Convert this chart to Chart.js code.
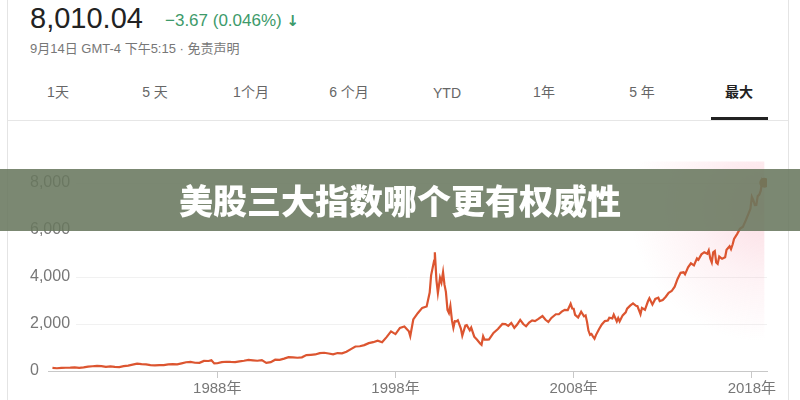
<!DOCTYPE html>
<html>
<head>
<meta charset="utf-8">
<script src="https://cdn.jsdelivr.net/npm/chart.js@4/dist/chart.umd.min.js"></script>
<style>
  body { margin: 0; width: 800px; height: 400px; background: #fff; overflow: hidden; position: relative;
         font-family: "Liberation Sans", Arial, "Noto Sans CJK SC", sans-serif; }
  .card { position: absolute; left: 7px; top: 0; width: 782px; height: 400px;
          border-left: 1px solid #e4e4e4; border-right: 1px solid #e4e4e4; box-sizing: border-box; }
  #price { position: absolute; left: 30px; top: 2px; font-size: 29px; color: #222; }
  #change { position: absolute; left: 165px; top: 11px; font-size: 17px; color: #3d9a6a; }
  #change b { font-family: "DejaVu Sans", sans-serif; font-size: 15px; }
  #stamp { position: absolute; left: 30px; top: 38px; font-size: 13px; color: #777; }
  .tab { position: absolute; top: 82px; font-size: 14px; line-height: 20px; color: #666; transform: translateX(-50%); }
  .tab.on { color: #222; font-weight: bold; }
  #under { position: absolute; left: 711px; top: 117px; width: 57px; height: 3px; background: #222; }
  #sep { position: absolute; left: 8px; top: 120px; width: 780px; height: 1px; background: #e6e6e6; }
  #wrap { position: absolute; left: 0; top: 125px; width: 800px; height: 275px; }
  #banner { position: absolute; left: 0; top: 169px; width: 800px; height: 62px;
            background: rgba(105, 120, 95, 0.88); color: #fff; text-align: center;
            font: 900 34px/62px "Noto Sans CJK SC", sans-serif; }
</style>
</head>
<body>
<div class="card"></div>
<div id="price">8,010.04</div>
<div id="change">−3.67 (0.046%) <b>↓</b></div>
<div id="stamp">9月14日 GMT-4 下午5:15 · 免责声明</div>
<div class="tab" style="left:58px">1天</div>
<div class="tab" style="left:155px">5 天</div>
<div class="tab" style="left:251px">1个月</div>
<div class="tab" style="left:349px">6 个月</div>
<div class="tab" style="left:447px;top:82.5px">YTD</div>
<div class="tab" style="left:544px">1年</div>
<div class="tab" style="left:642px">5 年</div>
<div class="tab on" style="left:739px">最大</div>
<div id="under"></div>
<div id="sep"></div>
<div id="wrap"><canvas id="myChart" width="800" height="275"></canvas></div>
<div id="banner">美股三大指数哪个更有权威性</div>
<script>
const years = [
  1978.75, 1979.0, 1979.25, 1979.5, 1979.75, 1980.0, 1980.25, 1980.5, 1980.75,
  1981.0, 1981.25, 1981.5, 1981.75, 1982.0, 1982.25, 1982.5, 1982.75,
  1983.0, 1983.25, 1983.5, 1983.75, 1984.0, 1984.25, 1984.5, 1984.75,
  1985.0, 1985.25, 1985.5, 1985.75, 1986.0, 1986.25, 1986.5, 1986.75,
  1987.0, 1987.25, 1987.5, 1987.67, 1987.83, 1988.0, 1988.25, 1988.5, 1988.75,
  1989.0, 1989.25, 1989.5, 1989.75, 1990.0, 1990.25, 1990.5, 1990.75,
  1991.0, 1991.25, 1991.5, 1991.75, 1992.0, 1992.25, 1992.5, 1992.75,
  1993.0, 1993.25, 1993.5, 1993.75, 1994.0, 1994.25, 1994.5, 1994.75,
  1995.0, 1995.25, 1995.5, 1995.75, 1996.0, 1996.25, 1996.5, 1996.75,
  1997.0, 1997.25, 1997.5, 1997.75, 1998.0, 1998.25, 1998.5, 1998.75, 1998.83,
  1999.0, 1999.25, 1999.5, 1999.75, 1999.92, 2000.0, 2000.17, 2000.21, 2000.3,
  2000.38, 2000.5, 2000.58, 2000.67, 2000.75, 2000.83, 2000.92,
  2001.0, 2001.08, 2001.17, 2001.25, 2001.33, 2001.42, 2001.5, 2001.67, 2001.75, 2001.92,
  2002.0, 2002.17, 2002.25, 2002.42, 2002.58, 2002.75, 2002.83, 2002.92,
  2003.0, 2003.17, 2003.25, 2003.5, 2003.75, 2004.0, 2004.17, 2004.33, 2004.5, 2004.67, 2004.83,
  2005.0, 2005.17, 2005.33, 2005.5, 2005.67, 2005.83, 2006.0, 2006.25, 2006.42, 2006.58, 2006.75,
  2007.0, 2007.17, 2007.33, 2007.5, 2007.67, 2007.83, 2007.92,
  2008.0, 2008.08, 2008.25, 2008.42, 2008.58, 2008.67, 2008.75, 2008.83, 2008.92,
  2009.0, 2009.08, 2009.17, 2009.25, 2009.42, 2009.58, 2009.75, 2009.92,
  2010.0, 2010.17, 2010.25, 2010.42, 2010.5, 2010.58, 2010.75, 2010.92,
  2011.0, 2011.17, 2011.33, 2011.5, 2011.58, 2011.67, 2011.75, 2011.83,
  2012.0, 2012.17, 2012.25, 2012.42, 2012.58, 2012.75, 2012.83,
  2013.0, 2013.17, 2013.33, 2013.5, 2013.67, 2013.83,
  2014.0, 2014.17, 2014.25, 2014.42, 2014.58, 2014.75, 2014.92,
  2015.0, 2015.17, 2015.33, 2015.5, 2015.58, 2015.67, 2015.75, 2015.83, 2015.92,
  2016.0, 2016.08, 2016.17, 2016.33, 2016.5, 2016.58, 2016.75, 2016.83, 2016.92,
  2017.0, 2017.17, 2017.33, 2017.5, 2017.67, 2017.83, 2017.92,
  2018.0, 2018.08, 2018.17, 2018.25, 2018.33, 2018.42, 2018.5, 2018.58, 2018.67, 2018.7
];
const values = [
  130, 118, 130, 138, 140, 151, 135, 157, 188,
  202, 215, 210, 180, 195, 175, 167, 205,
  232, 270, 310, 290, 278, 248, 240, 252,
  247, 282, 296, 280, 325, 372, 384, 350,
  349, 430, 425, 455, 323, 330, 374, 394, 385,
  381, 409, 435, 472, 454, 436, 462, 344,
  374, 482, 474, 527, 586, 578, 565, 583,
  677, 690, 704, 762, 776, 744, 706, 764,
  751, 817, 933, 1044, 1052, 1101, 1185, 1226,
  1291, 1222, 1442, 1685, 1570, 1835, 1894, 1694, 1485,
  2192, 2461, 2686, 2746, 3336, 4069, 4696, 5048, 3860,
  3320, 3966, 3766, 4206, 3673, 3369, 2598,
  2470, 2772, 2151, 1840, 2116, 2110, 2160, 1805, 1498, 1930,
  1950, 1731, 1845, 1463, 1328, 1172, 1114, 1478,
  1335, 1337, 1341, 1622, 1786, 2003, 1994, 1920, 2047, 1838, 1975,
  2175, 1999, 1904, 2057, 2152, 2120, 2205, 2339, 2179, 2091, 2258,
  2415, 2416, 2525, 2603, 2596, 2859, 2661,
  2652, 2389, 2279, 2522, 2326, 2367, 2092, 1720, 1536,
  1577, 1476, 1377, 1528, 1774, 1979, 2122, 2145,
  2269, 2238, 2398, 2109, 2255, 2114, 2368, 2498,
  2653, 2782, 2874, 2774, 2756, 2579, 2415, 2684,
  2605, 2967, 3092, 2827, 3067, 3116, 2977,
  3020, 3160, 3329, 3403, 3589, 3919,
  4177, 4199, 4114, 4408, 4580, 4493, 4791,
  4736, 4964, 5055, 4987, 5128, 4777, 4620, 5054, 5108,
  4614, 4558, 4870, 4775, 4843, 5162, 5312, 5189, 5383,
  5615, 5825, 6048, 6140, 6429, 6728, 6903,
  7411, 7273, 7063, 7066, 7442, 7510, 7671, 8109, 7985, 8010
];
const yTicks = [0, 2000, 4000, 6000, 8000];
const xTicks = [1988, 1998, 2008, 2018];
const glowFrom = 2010;

const points = years.map((y, i) => ({ x: y, y: values[i] }));
const last = points.length - 1;

// soft pink glow behind the latest part of the line
const glow = {
  id: "glow",
  beforeDatasetsDraw(chart) {
    const { ctx, chartArea, scales } = chart;
    const x0 = scales.x.getPixelForValue(glowFrom);
    const x1 = scales.x.getPixelForValue(years[last]);
    const top = chartArea.top + 2;
    const bottom = scales.y.getPixelForValue(300);
    const g = ctx.createRadialGradient(x1, top + 45, 0, x1, top + 45, 135);
    g.addColorStop(0, "rgba(245,150,170,0.32)");
    g.addColorStop(0.5, "rgba(245,150,170,0.13)");
    g.addColorStop(1, "rgba(245,150,170,0)");
    ctx.save();
    ctx.fillStyle = g;
    ctx.fillRect(x0, top, x1 - x0, bottom - top);
    ctx.restore();
  },
};

const ctx = document.getElementById("myChart").getContext("2d");
const myChart = new Chart(ctx, {
  type: "line",
  data: {
    datasets: [
      {
        data: points,
        borderColor: "#dc5530",
        borderWidth: 2.2,
        tension: 0,
        pointRadius: (c) => (c.dataIndex === last ? 5 : 0),
        pointBackgroundColor: "#c8582c",
        pointBorderWidth: 0,
      },
    ],
  },
  options: {
    responsive: false,
    animation: false,
    layout: { padding: { left: 30, right: 33, top: 34.5, bottom: 0 } },
    plugins: { legend: { display: false }, tooltip: { enabled: false } },
    scales: {
      x: {
        type: "linear",
        min: 1978.5,
        max: 2018.85,
        afterBuildTicks: (s) => { s.ticks = xTicks.map((v) => ({ value: v })); },
        afterFit: (s) => { s.height = 29; },
        ticks: {
          color: "#777",
          font: { size: 15, family: "'Liberation Sans', Arial, 'Noto Sans CJK SC'" },
          padding: 2,
          maxRotation: 0,
          callback: (v) => v + "年",
        },
        grid: { drawOnChartArea: false, drawTicks: true, tickLength: 7, color: "#c8c8c8" },
        border: { color: "#c8c8c8" },
      },
      y: {
        min: 0,
        max: 9000,
        afterBuildTicks: (s) => { s.ticks = yTicks.map((v) => ({ value: v })); },
        afterFit: (s) => { s.width = 18; },
        ticks: {
          color: "#777",
          mirror: true,
          padding: -18,
          showLabelBackdrop: true,
          backdropColor: "#fff",
          backdropPadding: { left: 0, right: 6, top: 0, bottom: 0 },
          font: { size: 16, family: "'Liberation Sans', Arial" },
          callback: (v) => v.toLocaleString("en-US"),
        },
        grid: { drawTicks: false, color: "#f1f1f1" },
        border: { display: false },
      },
    },
  },
  plugins: [glow],
});
</script>
</body>
</html>
